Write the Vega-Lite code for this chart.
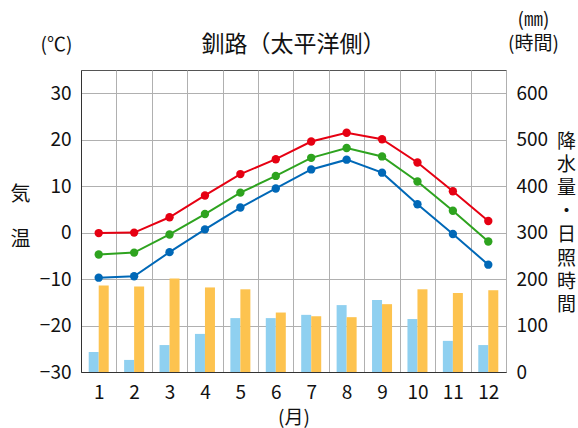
{
  "$schema": "https://vega.github.io/schema/vega-lite/v6.json",
  "width": 425,
  "height": 302,
  "autosize": {"type": "none"},
  "padding": {"left": 81, "top": 70, "right": 72, "bottom": 56},
  "background": "white",
  "config": {
    "font": "Noto Sans CJK JP",
    "view": {"stroke": "#555", "strokeWidth": 1},
    "axis": {
      "labelFont": "Noto Sans CJK JP",
      "titleFont": "Noto Sans CJK JP",
      "labelColor": "#111",
      "titleColor": "#111",
      "labelFontSize": 19,
      "titleFontSize": 19,
      "titleFontWeight": "normal",
      "gridColor": "#b0b0b0",
      "gridWidth": 1,
      "domainColor": "#333",
      "ticks": false
    }
  },
  "title": {
    "text": "釧路（太平洋側）",
    "fontSize": 23,
    "fontWeight": "normal",
    "color": "#111",
    "offset": -47,
    "anchor": "middle"
  },
  "datasets": {
    "bars": [
      {"month": 1, "type": "降水量", "value": 43},
      {"month": 2, "type": "降水量", "value": 26},
      {"month": 3, "type": "降水量", "value": 58},
      {"month": 4, "type": "降水量", "value": 82},
      {"month": 5, "type": "降水量", "value": 116},
      {"month": 6, "type": "降水量", "value": 116},
      {"month": 7, "type": "降水量", "value": 123},
      {"month": 8, "type": "降水量", "value": 144},
      {"month": 9, "type": "降水量", "value": 155},
      {"month": 10, "type": "降水量", "value": 114},
      {"month": 11, "type": "降水量", "value": 67},
      {"month": 12, "type": "降水量", "value": 58},
      {"month": 1, "type": "日照時間", "value": 186},
      {"month": 2, "type": "日照時間", "value": 184},
      {"month": 3, "type": "日照時間", "value": 201},
      {"month": 4, "type": "日照時間", "value": 182},
      {"month": 5, "type": "日照時間", "value": 178},
      {"month": 6, "type": "日照時間", "value": 128},
      {"month": 7, "type": "日照時間", "value": 120},
      {"month": 8, "type": "日照時間", "value": 118},
      {"month": 9, "type": "日照時間", "value": 146},
      {"month": 10, "type": "日照時間", "value": 178},
      {"month": 11, "type": "日照時間", "value": 170},
      {"month": 12, "type": "日照時間", "value": 176}
    ],
    "temps": [
      {"month": 1, "series": "最高気温", "temp": -0.1},
      {"month": 2, "series": "最高気温", "temp": 0.0},
      {"month": 3, "series": "最高気温", "temp": 3.3},
      {"month": 4, "series": "最高気温", "temp": 8.0},
      {"month": 5, "series": "最高気温", "temp": 12.6},
      {"month": 6, "series": "最高気温", "temp": 15.8},
      {"month": 7, "series": "最高気温", "temp": 19.6},
      {"month": 8, "series": "最高気温", "temp": 21.5},
      {"month": 9, "series": "最高気温", "temp": 20.1},
      {"month": 10, "series": "最高気温", "temp": 15.1},
      {"month": 11, "series": "最高気温", "temp": 8.9},
      {"month": 12, "series": "最高気温", "temp": 2.5},
      {"month": 1, "series": "平均気温", "temp": -4.7},
      {"month": 2, "series": "平均気温", "temp": -4.3},
      {"month": 3, "series": "平均気温", "temp": -0.4},
      {"month": 4, "series": "平均気温", "temp": 4.0},
      {"month": 5, "series": "平均気温", "temp": 8.6},
      {"month": 6, "series": "平均気温", "temp": 12.2},
      {"month": 7, "series": "平均気温", "temp": 16.1},
      {"month": 8, "series": "平均気温", "temp": 18.2},
      {"month": 9, "series": "平均気温", "temp": 16.4},
      {"month": 10, "series": "平均気温", "temp": 11.0},
      {"month": 11, "series": "平均気温", "temp": 4.7},
      {"month": 12, "series": "平均気温", "temp": -1.9},
      {"month": 1, "series": "最低気温", "temp": -9.7},
      {"month": 2, "series": "最低気温", "temp": -9.4},
      {"month": 3, "series": "最低気温", "temp": -4.2},
      {"month": 4, "series": "最低気温", "temp": 0.7},
      {"month": 5, "series": "最低気温", "temp": 5.4},
      {"month": 6, "series": "最低気温", "temp": 9.5},
      {"month": 7, "series": "最低気温", "temp": 13.6},
      {"month": 8, "series": "最低気温", "temp": 15.7},
      {"month": 9, "series": "最低気温", "temp": 12.9},
      {"month": 10, "series": "最低気温", "temp": 6.1},
      {"month": 11, "series": "最低気温", "temp": -0.3},
      {"month": 12, "series": "最低気温", "temp": -6.9}
    ]
  },
  "layer": [
    {
      "data": {"name": "bars"},
      "mark": {"type": "bar"},
      "encoding": {
        "x": {
          "field": "month",
          "type": "ordinal",
          "scale": {"type": "band", "paddingInner": 0, "paddingOuter": 0},
          "axis": {
            "orient": "top",
            "labels": false,
            "grid": false,
            "domain": false,
            "title": ["(㎜)", "(時間)"],
            "titleAngle": 0,
            "titleAlign": "center",
            "titleBaseline": "top",
            "titleLineHeight": 24,
            "titleX": 452,
            "titleY": -60
          }
        },
        "xOffset": {
          "field": "type",
          "type": "nominal",
          "sort": ["降水量", "日照時間"],
          "scale": {"paddingInner": 0, "paddingOuter": 0.77}
        },
        "y": {
          "field": "value",
          "type": "quantitative",
          "scale": {"domain": [0, 650], "nice": false, "zero": true},
          "axis": {
            "orient": "right",
            "values": [0, 100, 200, 300, 400, 500, 600],
            "grid": false,
            "domain": false,
            "labelPadding": 10,
            "title": ["降", "水", "量", "・", "日", "照", "時", "間"],
            "titleAngle": 0,
            "titleAlign": "center",
            "titleBaseline": "top",
            "titleFontSize": 19,
            "titleLineHeight": 23.4,
            "titleX": 60,
            "titleY": 62
          }
        },
        "color": {
          "field": "type",
          "type": "nominal",
          "scale": {"domain": ["降水量", "日照時間"], "range": ["#8fd0f0", "#fdc34f"]},
          "legend": null
        }
      }
    },
    {
      "data": {"name": "temps"},
      "mark": {"type": "line", "strokeWidth": 2},
      "encoding": {
        "x": {
          "field": "month",
          "type": "ordinal",
          "scale": {"type": "band", "paddingInner": 0, "paddingOuter": 0},
          "axis": {
            "orient": "bottom",
            "title": "(月)",
            "titlePadding": 6,
            "labelAngle": 0,
            "labelPadding": 11,
            "grid": true,
            "tickBand": "extent",
            "domain": true
          }
        },
        "y": {
          "field": "temp",
          "type": "quantitative",
          "scale": {"domain": [-30, 35], "nice": false, "zero": false},
          "axis": {
            "orient": "left",
            "values": [-30, -20, -10, 0, 10, 20, 30],
            "grid": true,
            "domain": true,
            "labelPadding": 10,
            "title": ["気", "温"],
            "titleAngle": 0,
            "titleAlign": "center",
            "titleBaseline": "top",
            "titleFontSize": 20,
            "titleLineHeight": 45,
            "titleX": -61,
            "titleY": 114
          }
        },
        "color": {
          "field": "series",
          "type": "nominal",
          "scale": {"domain": ["最高気温", "平均気温", "最低気温"], "range": ["#e60012", "#2ea31f", "#0068b7"]},
          "legend": null
        }
      }
    },
    {
      "data": {"name": "temps"},
      "mark": {"type": "point", "filled": true, "size": 70, "opacity": 1},
      "encoding": {
        "x": {
          "field": "month",
          "type": "ordinal",
          "scale": {"type": "band", "paddingInner": 0, "paddingOuter": 0},
          "axis": null
        },
        "y": {
          "field": "temp",
          "type": "quantitative",
          "scale": {"domain": [-30, 35], "nice": false, "zero": false},
          "axis": {
            "orient": "left",
            "labels": false,
            "grid": false,
            "domain": false,
            "title": "(℃)",
            "titleAngle": 0,
            "titleAlign": "center",
            "titleBaseline": "top",
            "titleX": -25,
            "titleY": -35
          }
        },
        "color": {
          "field": "series",
          "type": "nominal",
          "scale": {"domain": ["最高気温", "平均気温", "最低気温"], "range": ["#e60012", "#2ea31f", "#0068b7"]},
          "legend": null
        }
      }
    }
  ],
  "resolve": {"scale": {"x": "independent", "y": "independent", "color": "independent"}}
}
